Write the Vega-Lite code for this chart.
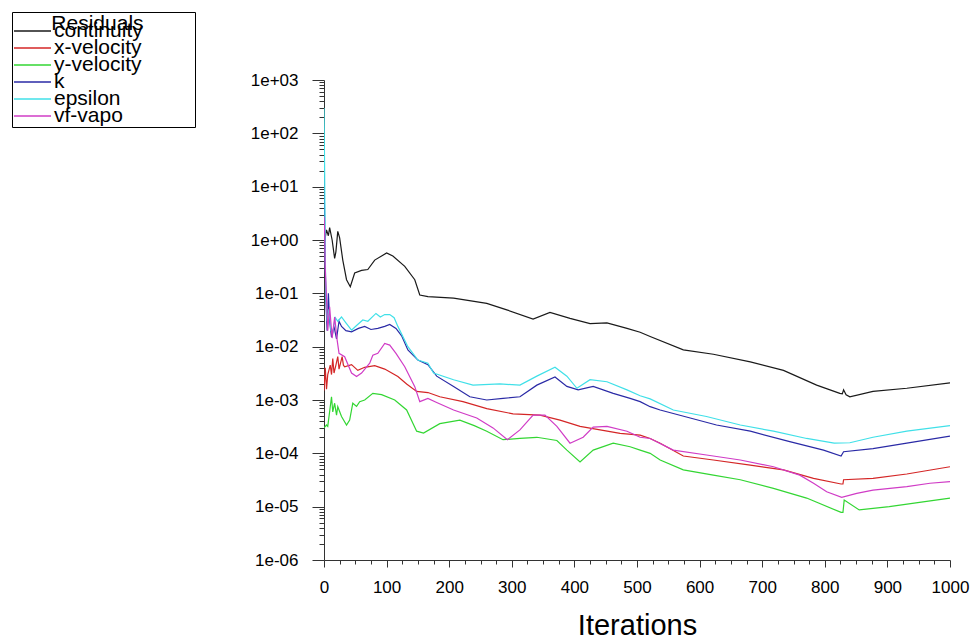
{
  "$schema": "https://vega.github.io/schema/vega-lite/v6.json",
  "autosize": "none",
  "width": 626,
  "height": 480,
  "padding": {"left": 324, "top": 80, "right": 21, "bottom": 81},
  "background": "white",
  "config": {"view": {"stroke": null}},
  "datasets": {
    "continuity": [[0,0.8],[4,1.55],[7,1.2],[9,1.7],[13,1.0],[17,0.45],[19,0.6],[22,1.45],[25,1.1],[30,0.42],[36,0.18],[42,0.133],[49,0.24],[60,0.27],[70,0.28],[81,0.42],[92,0.5],[100,0.57],[110,0.5],[129,0.32],[145,0.18],[153,0.093],[166,0.087],[207,0.081],[260,0.065],[292,0.049],[334,0.033],[361,0.044],[393,0.034],[425,0.027],[452,0.028],[484,0.022],[505,0.0186],[521,0.0155],[574,0.0087],[622,0.0072],[681,0.0052],[734,0.0036],[787,0.0019],[824,0.00133],[828,0.0013],[830,0.00155],[834,0.00125],[840,0.00115],[877,0.00145],[931,0.00166],[1000,0.0021]],
    "x-velocity": [[0,0.0015],[2,0.004],[4,0.0016],[6,0.003],[10,0.0045],[12,0.003],[14,0.006],[16,0.0032],[19,0.0045],[22,0.0065],[24,0.0038],[29,0.0065],[31,0.0045],[33,0.0042],[44,0.0046],[54,0.0036],[65,0.0041],[81,0.0044],[97,0.0038],[118,0.00275],[132,0.002],[148,0.00145],[166,0.00138],[185,0.00115],[222,0.00093],[260,0.00069],[302,0.00055],[345,0.00052],[377,0.00042],[409,0.00032],[441,0.000275],[473,0.000237],[505,0.00022],[521,0.00019],[537,0.000155],[574,0.000089],[622,0.000075],[681,0.00006],[734,0.000049],[782,0.000034],[826,0.0000266],[829,0.0000266],[830,0.000032],[877,0.000034],[931,0.000041],[1000,0.000056]],
    "y-velocity": [[0,0.0003],[4,0.00034],[6,0.00032],[12,0.00115],[14,0.0006],[17,0.00087],[20,0.00052],[22,0.00075],[28,0.00049],[36,0.00034],[41,0.00042],[46,0.00087],[52,0.00076],[57,0.00093],[65,0.001],[78,0.00133],[92,0.00126],[113,0.001],[132,0.00065],[148,0.00026],[159,0.00024],[185,0.00036],[217,0.00042],[240,0.00033],[260,0.00026],[286,0.00018],[313,0.00019],[340,0.0002],[372,0.000174],[388,0.000115],[409,0.000069],[430,0.000115],[462,0.000155],[489,0.000133],[505,0.000115],[521,0.0001],[537,0.000075],[574,0.000049],[622,0.000039],[665,0.000032],[718,0.000022],[771,0.0000145],[826,0.0000078],[829,0.0000078],[831,0.0000133],[855,0.0000087],[903,0.00001],[957,0.0000123],[1000,0.0000145]],
    "k": [[0,15],[1,3],[2,0.3],[3,0.075],[5,0.02],[7,0.1],[9,0.03],[12,0.015],[16,0.024],[20,0.014],[24,0.03],[28,0.024],[35,0.02],[44,0.019],[55,0.022],[65,0.024],[75,0.021],[86,0.022],[97,0.024],[105,0.026],[115,0.022],[124,0.016],[134,0.0087],[150,0.0056],[166,0.0046],[180,0.0028],[207,0.0018],[233,0.00115],[260,0.001],[286,0.00107],[313,0.00115],[340,0.0019],[369,0.0027],[388,0.0018],[406,0.00155],[430,0.0018],[462,0.00133],[489,0.00107],[505,0.00093],[521,0.00075],[537,0.00065],[585,0.00046],[627,0.00034],[681,0.00026],[744,0.000166],[798,0.000115],[826,0.000089],[830,0.000107],[877,0.000123],[931,0.000155],[1000,0.00021]],
    "epsilon": [[0,300],[1,20],[2,0.5],[3,0.1],[5,0.03],[8,0.05],[11,0.02],[14,0.018],[18,0.035],[22,0.03],[28,0.036],[35,0.028],[44,0.0204],[52,0.025],[62,0.0316],[70,0.03],[83,0.042],[90,0.036],[97,0.04],[105,0.04],[112,0.035],[118,0.024],[134,0.01],[150,0.0056],[166,0.0049],[175,0.0032],[207,0.0024],[238,0.0019],[281,0.002],[313,0.0019],[340,0.0028],[369,0.0041],[388,0.0028],[404,0.00166],[425,0.0024],[452,0.0022],[484,0.00155],[505,0.0012],[521,0.00105],[558,0.00065],[611,0.00049],[665,0.00034],[718,0.00026],[771,0.00019],[815,0.000155],[840,0.000158],[877,0.0002],[931,0.00026],[1000,0.00033]],
    "vf-vapo": [[0,2.7],[1,1.5],[2,0.3],[4,0.08],[6,0.02],[9,0.056],[13,0.0145],[17,0.036],[21,0.0133],[24,0.0075],[33,0.0065],[44,0.0032],[52,0.00275],[60,0.0032],[73,0.0049],[78,0.0069],[86,0.0075],[97,0.0115],[105,0.0107],[115,0.0075],[129,0.0042],[145,0.00178],[153,0.00093],[166,0.00107],[180,0.0009],[207,0.00065],[244,0.00046],[270,0.0003],[293,0.00018],[313,0.000275],[334,0.00052],[353,0.00052],[372,0.00032],[393,0.000155],[414,0.0002],[430,0.00031],[452,0.00032],[484,0.00026],[505,0.0002],[521,0.00019],[558,0.000115],[611,0.000093],[665,0.000075],[718,0.000056],[760,0.000039],[782,0.0000275],[803,0.000019],[827,0.000015],[851,0.0000178],[877,0.0000204],[931,0.0000237],[968,0.0000275],[1000,0.0000295]]
  },
  "data": {"values": []},
  "layer": [
    {"data": {"name": "continuity"}, "transform": [{"calculate": "'continuity'", "as": "series"}, {"calculate": "datum[0]", "as": "iter"}, {"calculate": "datum[1]", "as": "res"}], "mark": {"type": "line", "strokeWidth": 1.2, "clip": true}, "encoding": {"x": {"field": "iter", "type": "quantitative"}, "y": {"field": "res", "type": "quantitative"}, "color": {"field": "series", "type": "nominal"}}},
    {"data": {"name": "x-velocity"}, "transform": [{"calculate": "'x-velocity'", "as": "series"}, {"calculate": "datum[0]", "as": "iter"}, {"calculate": "datum[1]", "as": "res"}], "mark": {"type": "line", "strokeWidth": 1.2, "clip": true}, "encoding": {"x": {"field": "iter", "type": "quantitative"}, "y": {"field": "res", "type": "quantitative"}, "color": {"field": "series", "type": "nominal"}}},
    {"data": {"name": "y-velocity"}, "transform": [{"calculate": "'y-velocity'", "as": "series"}, {"calculate": "datum[0]", "as": "iter"}, {"calculate": "datum[1]", "as": "res"}], "mark": {"type": "line", "strokeWidth": 1.2, "clip": true}, "encoding": {"x": {"field": "iter", "type": "quantitative"}, "y": {"field": "res", "type": "quantitative"}, "color": {"field": "series", "type": "nominal"}}},
    {"data": {"name": "k"}, "transform": [{"calculate": "'k'", "as": "series"}, {"calculate": "datum[0]", "as": "iter"}, {"calculate": "datum[1]", "as": "res"}], "mark": {"type": "line", "strokeWidth": 1.2, "clip": true}, "encoding": {"x": {"field": "iter", "type": "quantitative"}, "y": {"field": "res", "type": "quantitative"}, "color": {"field": "series", "type": "nominal"}}},
    {"data": {"name": "epsilon"}, "transform": [{"calculate": "'epsilon'", "as": "series"}, {"calculate": "datum[0]", "as": "iter"}, {"calculate": "datum[1]", "as": "res"}], "mark": {"type": "line", "strokeWidth": 1.2, "clip": true}, "encoding": {"x": {"field": "iter", "type": "quantitative"}, "y": {"field": "res", "type": "quantitative"}, "color": {"field": "series", "type": "nominal"}}},
    {"data": {"name": "vf-vapo"}, "transform": [{"calculate": "'vf-vapo'", "as": "series"}, {"calculate": "datum[0]", "as": "iter"}, {"calculate": "datum[1]", "as": "res"}], "mark": {"type": "line", "strokeWidth": 1.2, "clip": true}, "encoding": {"x": {"field": "iter", "type": "quantitative"}, "y": {"field": "res", "type": "quantitative"}, "color": {"field": "series", "type": "nominal"}}}
  ],
  "resolve": {"scale": {"color": "shared"}},
  "encoding": {
    "x": {"field": "iter", "type": "quantitative",
      "scale": {"domain": [0, 1000], "nice": false},
      "axis": {"title": "Iterations", "titleFont": "Liberation Sans", "titleFontSize": 29, "titleFontWeight": "normal", "titleColor": "black", "titlePadding": 16,
        "values": [0,25,50,75,100,125,150,175,200,225,250,275,300,325,350,375,400,425,450,475,500,525,550,575,600,625,650,675,700,725,750,775,800,825,850,875,900,925,950,975,1000],
        "labelExpr": "datum.value % 100 == 0 ? datum.value : ''",
        "tickSize": {"condition": {"test": "datum.value % 100 == 0", "value": 7}, "value": 4},
        "labelFont": "Liberation Sans", "labelFontSize": 17, "labelColor": "black", "labelPadding": 12, "labelOverlap": false, "labelFlush": false,
        "grid": false, "domainColor": "#333", "tickColor": "#333", "domainWidth": 1, "tickWidth": 1}},
    "y": {"field": "res", "type": "quantitative",
      "scale": {"type": "log", "domain": [1e-6, 1000], "nice": false},
      "axis": {"title": null,
        "values": [1e-6,2e-6,3e-6,4e-6,5e-6,6e-6,7e-6,8e-6,9e-6,1e-5,2e-5,3e-5,4e-5,5e-5,6e-5,7e-5,8e-5,9e-5,1e-4,2e-4,3e-4,4e-4,5e-4,6e-4,7e-4,8e-4,9e-4,1e-3,2e-3,3e-3,4e-3,5e-3,6e-3,7e-3,8e-3,9e-3,1e-2,2e-2,3e-2,4e-2,5e-2,6e-2,7e-2,8e-2,9e-2,0.1,0.2,0.3,0.4,0.5,0.6,0.7,0.8,0.9,1,2,3,4,5,6,7,8,9,10,20,30,40,50,60,70,80,90,100,200,300,400,500,600,700,800,900,1000],
        "labelExpr": "abs(log(datum.value)/LN10 - round(log(datum.value)/LN10)) < 0.01 ? '1e' + (round(log(datum.value)/LN10) < 0 ? '-0' : '+0') + abs(round(log(datum.value)/LN10)) : ''",
        "tickSize": {"condition": {"test": "abs(log(datum.value)/LN10 - round(log(datum.value)/LN10)) < 0.01", "value": 12}, "value": 5},
        "labelFont": "Liberation Sans", "labelFontSize": 17, "labelColor": "black", "labelPadding": 14, "labelOverlap": false, "labelFlush": false,
        "grid": false, "domainColor": "#333", "tickColor": "#333", "domainWidth": 1, "tickWidth": 1}},
    "color": {"field": "series", "type": "nominal",
      "scale": {"domain": ["continuity", "x-velocity", "y-velocity", "k", "epsilon", "vf-vapo"], "range": ["#1a1a1a", "#d42626", "#33d633", "#2a2aa6", "#40e0e8", "#d03cc6"]},
      "legend": {"orient": "none", "legendX": -312, "legendY": -68,
        "title": "\u2800\u00a0\u00a0\u00a0\u00a0Residuals\u00a0\u00a0\u00a0\u00a0\u00a0\u00a0\u2800",
        "titleFont": "Liberation Sans", "titleFontSize": 21, "titleFontWeight": "normal", "titleColor": "black", "titlePadding": -10, "titleLimit": 400,
        "labelFont": "Liberation Sans", "labelFontSize": 21, "labelColor": "black", "labelOffset": 2,
        "symbolType": "stroke", "symbolSize": 1369, "symbolStrokeWidth": 1.5, "clipHeight": 13.8, "rowPadding": -6, "symbolOffset": 0,
        "padding": 1, "strokeColor": "black", "fillColor": "white"}}
  }
}
